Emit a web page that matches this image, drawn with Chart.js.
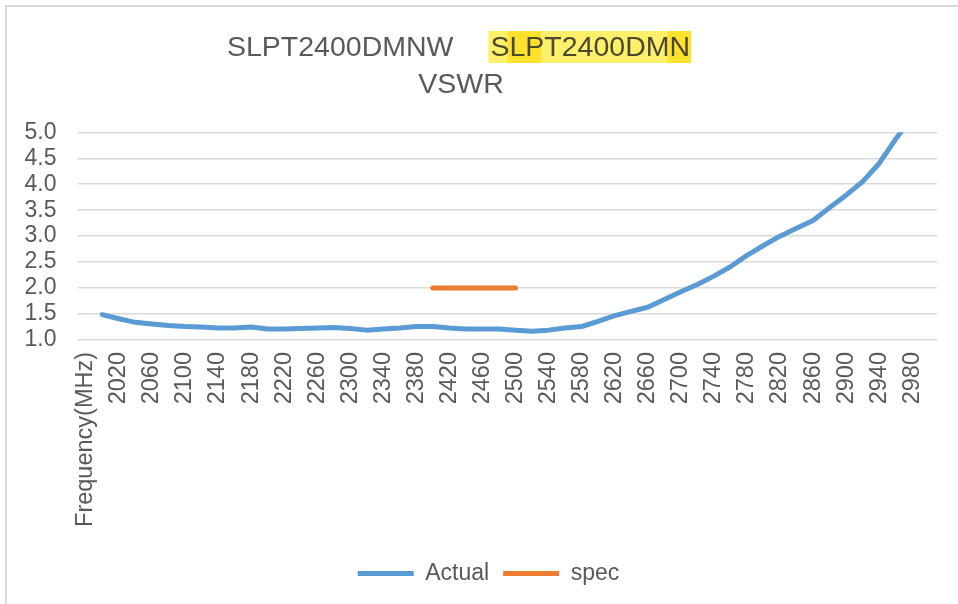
<!DOCTYPE html>
<html>
<head>
<meta charset="utf-8">
<script src="https://cdn.jsdelivr.net/npm/chart.js@4"></script>
<style>
  body { margin: 0; background: #fff; }
  canvas { display: block; }
</style>
</head>
<body>
<canvas id="myChart" width="958" height="604"></canvas>
<script>
const freqs = ['Frequency(MHz)', 2000, 2020, 2040, 2060, 2080, 2100, 2120, 2140, 2160, 2180,
    2200, 2220, 2240, 2260, 2280, 2300, 2320, 2340, 2360, 2380,
    2400, 2420, 2440, 2460, 2480, 2500, 2520, 2540, 2560, 2580,
    2600, 2620, 2640, 2660, 2680, 2700, 2720, 2740, 2760, 2780,
    2800, 2820, 2840, 2860, 2880, 2900, 2920, 2940, 2960, 2980, 3000];

const actual = [null, 1.49, 1.41, 1.34, 1.31, 1.28, 1.26, 1.25, 1.23, 1.23, 1.25,
    1.21, 1.21, 1.22, 1.23, 1.24, 1.22, 1.19, 1.21, 1.23, 1.26,
    1.26, 1.23, 1.21, 1.21, 1.21, 1.19, 1.17, 1.19, 1.23, 1.26,
    1.36, 1.47, 1.55, 1.63, 1.78, 1.93, 2.07, 2.23, 2.41, 2.63,
    2.82, 3.00, 3.15, 3.30, 3.55, 3.79, 4.05, 4.40, 4.87, 5.30, null];

// spec limit: 2.0 from 2400 to 2500
const spec = [null, null, null, null, null, null, null, null, null, null, null,
    null, null, null, null, null, null, null, null, null, null,
    2, 2, 2, 2, 2, 2, null, null, null, null,
    null, null, null, null, null, null, null, null, null, null,
    null, null, null, null, null, null, null, null, null, null, null];

const yTicks = ['1.0', '1.5', '2.0', '2.5', '3.0', '3.5', '4.0', '4.5', '5.0'];

const titleLeft = 'SLPT2400DMNW';
const titleRight = 'SLPT2400DMN';
const titleLine2 = 'VSWR';

const textColor = '#595959';
const FONT = '"Liberation Sans", Arial, sans-serif';

// title with the yellow highlight + chart border
const titlePlugin = {
    id: 'titlePlugin',
    afterLayout(chart) {
        // legend sits a bit right of the middle in the original
        chart.legend.left += 20;
        chart.legend.right += 20;
    },
    beforeDraw(chart) {
        const ctx = chart.ctx;
        ctx.save();
        ctx.fillStyle = '#fff';
        ctx.fillRect(0, 0, chart.width, chart.height);
        ctx.strokeStyle = '#d9d9d9';
        ctx.lineWidth = 2;
        ctx.strokeRect(6, 6, chart.width + 20, chart.height + 20);

        ctx.font = '28.5px ' + FONT;
        ctx.textBaseline = 'alphabetic';
        ctx.textAlign = 'left';
        const w1 = ctx.measureText(titleLeft).width;
        const w2 = ctx.measureText(titleRight).width;
        const gap = 37;
        const cx = 458.5;
        const x1 = cx - (w1 + gap + w2) / 2;
        const x2 = x1 + w1 + gap;

        // highlight
        ctx.fillStyle = '#fff06c';
        ctx.fillRect(x2 - 2, 31, w2 + 3, 32);
        ctx.fillStyle = '#ffe12e';
        const s = ctx.measureText('S').width;
        const slp = ctx.measureText('SLP').width;
        ctx.fillRect(x2 + s - 2, 31, slp - s - 1, 32);
        const dm = ctx.measureText('SLPT2400DM').width;
        ctx.fillRect(x2 + dm - 2, 31, w2 - dm + 3, 32);

        ctx.fillStyle = textColor;
        ctx.fillText(titleLeft, x1, 56);
        ctx.fillStyle = '#4b4830';
        ctx.fillText(titleRight, x2, 56);
        ctx.fillStyle = textColor;
        ctx.textAlign = 'center';
        ctx.fillText(titleLine2, 461, 92.5);
        ctx.restore();
    }
};

const ctx = document.getElementById('myChart').getContext('2d');
const myChart = new Chart(ctx, {
    type: 'line',
    data: {
        labels: freqs,
        datasets: [
            {
                label: 'Actual',
                data: actual,
                borderColor: '#5b9bd5',
                backgroundColor: '#5b9bd5',
                borderWidth: 5,
                borderCapStyle: 'round',
                borderJoinStyle: 'round',
                pointRadius: 0,
                tension: 0,
                clip: 0,
            },
            {
                label: 'spec',
                data: spec,
                borderColor: '#ed7d31',
                backgroundColor: '#ed7d31',
                borderWidth: 5,
                borderCapStyle: 'round',
                pointRadius: 0,
                tension: 0,
            },
        ],
    },
    options: {
        responsive: false,
        animation: false,
        layout: {
            padding: { top: 132.3, left: 0, right: 21, bottom: 9 },
        },
        plugins: {
            title: { display: false },
            tooltip: { enabled: false },
            legend: {
                position: 'bottom',
                labels: {
                    color: textColor,
                    font: { family: FONT, size: 23 },
                    usePointStyle: true,
                    pointStyle: 'line',
                    pointStyleWidth: 56,
                    padding: 14,
                },
            },
        },
        scales: {
            x: {
                offset: true,
                grid: { display: false, drawTicks: false },
                border: { display: false },
                afterFit(scale) {
                    scale.height = 208;
                    scale.paddingLeft = 0;
                    scale.paddingRight = 0;
                },
                ticks: {
                    autoSkip: false,
                    maxRotation: 90,
                    minRotation: 90,
                    padding: 12,
                    color: textColor,
                    font: { family: FONT, size: 23.5 },
                    callback: function (val, i) {
                        return i % 2 === 0 ? String(freqs[i]) : '';
                    },
                },
            },
            y: {
                min: 1,
                max: 5,
                afterFit(scale) { scale.width = 77.5; },
                afterBuildTicks(scale) {
                    scale.ticks = yTicks.map(t => ({ value: parseFloat(t) }));
                },
                grid: { color: '#d9d9d9', lineWidth: 1.5, drawTicks: false },
                border: { display: false },
                ticks: {
                    autoSkip: false,
                    padding: 21,
                    color: textColor,
                    font: { family: FONT, size: 23 },
                    callback: (v) => Number(v).toFixed(1),
                },
            },
        },
    },
    plugins: [titlePlugin],
});
</script>
</body>
</html>
